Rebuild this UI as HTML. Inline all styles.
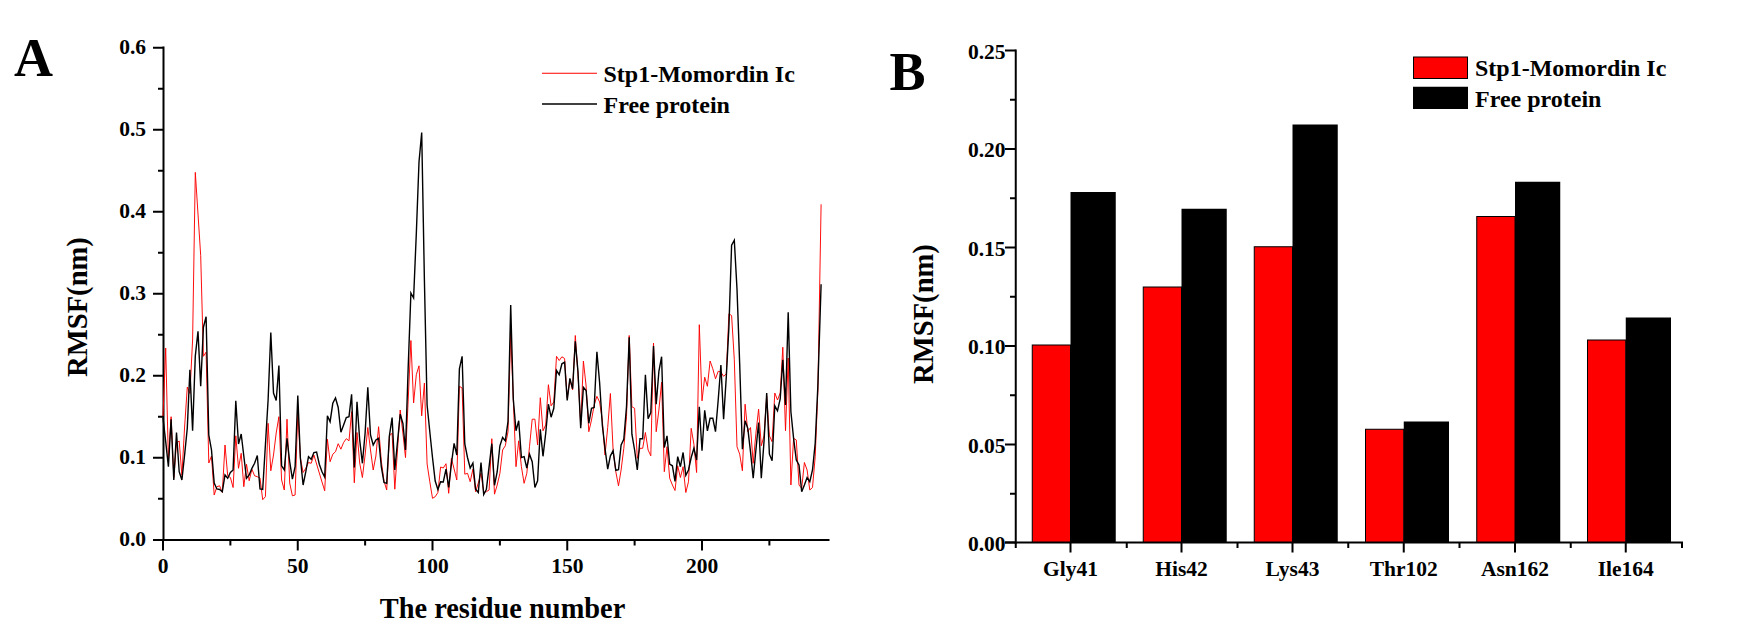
<!DOCTYPE html>
<html><head><meta charset="utf-8"><title>RMSF</title>
<style>
html,body{margin:0;padding:0;background:#fff;}
body{width:1760px;height:644px;overflow:hidden;}
svg{display:block;}
text{font-family:"Liberation Serif",serif;font-weight:bold;fill:#000;}
</style></head><body>
<svg width="1760" height="644" viewBox="0 0 1760 644">
<rect x="0" y="0" width="1760" height="644" fill="#fff"/>

<g id="panelA">
<text x="14" y="76" font-size="54">A</text>
<path d="M163.5 46.5V541" stroke="#000" stroke-width="2" fill="none"/>
<path d="M153 540.0H829.5" stroke="#000" stroke-width="2" fill="none"/>
<path d="M158 498.75H163.5M153 457.75H163.5M158 416.75H163.5M153 375.75H163.5M158 334.75H163.5M153 293.75H163.5M158 252.75H163.5M153 211.75H163.5M158 170.75H163.5M153 129.75H163.5M158 88.75H163.5M153 47.75H163.5M163.00 540.0V550.5M230.38 540.0V545.5M297.75 540.0V550.5M365.12 540.0V545.5M432.50 540.0V550.5M499.88 540.0V545.5M567.25 540.0V550.5M634.62 540.0V545.5M702.00 540.0V550.5M769.38 540.0V545.5" stroke="#000" stroke-width="2" fill="none"/>
<text x="146" y="546.35" font-size="21.5" text-anchor="end">0.0</text>
<text x="146" y="464.35" font-size="21.5" text-anchor="end">0.1</text>
<text x="146" y="382.35" font-size="21.5" text-anchor="end">0.2</text>
<text x="146" y="300.35" font-size="21.5" text-anchor="end">0.3</text>
<text x="146" y="218.35" font-size="21.5" text-anchor="end">0.4</text>
<text x="146" y="136.35" font-size="21.5" text-anchor="end">0.5</text>
<text x="146" y="54.35" font-size="21.5" text-anchor="end">0.6</text>
<text x="163.00" y="573" font-size="21.5" text-anchor="middle">0</text>
<text x="297.75" y="573" font-size="21.5" text-anchor="middle">50</text>
<text x="432.50" y="573" font-size="21.5" text-anchor="middle">100</text>
<text x="567.25" y="573" font-size="21.5" text-anchor="middle">150</text>
<text x="702.00" y="573" font-size="21.5" text-anchor="middle">200</text>
<text x="502.5" y="618" font-size="28.4" text-anchor="middle">The residue number</text>
<text transform="translate(87.2 307) rotate(-90)" font-size="28.6" text-anchor="middle">RMSF(nm)</text>
<path d="M542 73.25H597" stroke="#f00" stroke-width="1"/>
<path d="M542 104H597" stroke="#000" stroke-width="1.5"/>
<text x="603.5" y="81.7" font-size="24">Stp1-Momordin Ic</text>
<text x="603.5" y="112.5" font-size="24">Free protein</text>
<path d="M163.0 416.0 L165.7 348.0 L168.4 460.0 L171.1 416.7 L173.8 477.5 L176.5 443.0 L179.2 441.0 L181.9 475.4 L184.6 427.0 L187.3 387.0 L189.9 393.4 L192.6 340.0 L195.3 172.4 L198.0 214.0 L200.7 255.6 L203.4 356.3 L206.1 352.2 L208.8 463.0 L211.5 456.0 L214.2 495.0 L216.9 486.7 L219.6 485.8 L222.3 492.5 L225.0 445.0 L227.7 475.8 L230.4 477.5 L233.1 487.5 L235.8 435.8 L238.5 468.3 L241.2 453.3 L243.8 486.7 L246.5 464.2 L249.2 480.8 L251.9 469.2 L254.6 475.8 L257.3 476.7 L260.0 478.0 L262.7 499.7 L265.4 496.7 L268.1 423.3 L270.8 470.8 L273.5 455.0 L276.2 433.0 L278.9 416.7 L281.6 480.0 L284.3 490.0 L287.0 419.2 L289.7 483.0 L292.4 495.8 L295.1 495.0 L297.8 411.7 L300.4 458.0 L303.1 472.5 L305.8 468.3 L308.5 462.5 L311.2 463.3 L313.9 455.0 L316.6 464.0 L319.3 473.0 L322.0 482.0 L324.7 490.8 L327.4 439.2 L330.1 461.7 L332.8 454.2 L335.5 451.7 L338.2 443.7 L340.9 449.2 L343.6 442.5 L346.3 438.7 L349.0 440.8 L351.6 411.7 L354.3 482.8 L357.0 432.5 L359.7 463.0 L362.4 477.5 L365.1 455.0 L367.8 427.5 L370.5 450.0 L373.2 470.0 L375.9 456.0 L378.6 426.7 L381.3 461.0 L384.0 481.0 L386.7 490.0 L389.4 435.8 L392.1 433.3 L394.8 489.2 L397.5 450.0 L400.2 410.0 L402.9 433.0 L405.5 457.5 L408.2 400.0 L410.9 340.5 L413.6 403.0 L416.3 374.7 L419.0 365.8 L421.7 415.8 L424.4 383.0 L427.1 464.0 L429.8 481.7 L432.5 498.3 L435.2 496.7 L437.9 492.5 L440.6 467.0 L443.3 468.0 L446.0 463.7 L448.7 493.3 L451.4 458.3 L454.1 469.0 L456.8 480.0 L459.4 386.3 L462.1 388.0 L464.8 474.2 L467.5 473.3 L470.2 481.7 L472.9 469.2 L475.6 491.7 L478.3 483.0 L481.0 473.0 L483.7 492.5 L486.4 491.7 L489.1 490.0 L491.8 438.7 L494.5 494.2 L497.2 485.0 L499.9 473.3 L502.6 450.0 L505.3 445.8 L508.0 431.7 L510.7 332.2 L513.3 400.0 L516.0 466.7 L518.7 440.8 L521.4 466.7 L524.1 483.3 L526.8 473.3 L529.5 446.7 L532.2 419.2 L534.9 419.2 L537.6 445.0 L540.3 397.7 L543.0 430.8 L545.7 425.0 L548.4 384.7 L551.1 405.8 L553.8 402.0 L556.5 356.3 L559.2 360.5 L561.9 356.8 L564.6 358.5 L567.2 398.0 L569.9 380.0 L572.6 390.0 L575.3 335.5 L578.0 375.0 L580.7 425.0 L583.4 361.0 L586.1 386.0 L588.8 431.7 L591.5 420.0 L594.2 405.0 L596.9 396.3 L599.6 402.0 L602.3 420.0 L605.0 455.0 L607.7 427.5 L610.4 393.5 L613.1 450.0 L615.8 471.7 L618.5 485.8 L621.1 470.0 L623.8 448.3 L626.5 416.7 L629.2 335.5 L631.9 406.7 L634.6 408.3 L637.3 458.3 L640.0 448.3 L642.7 448.3 L645.4 432.5 L648.1 450.0 L650.8 455.8 L653.5 343.0 L656.2 431.7 L658.9 410.0 L661.6 382.2 L664.3 471.7 L667.0 446.7 L669.7 478.3 L672.4 485.0 L675.0 490.5 L677.7 465.8 L680.4 477.5 L683.1 466.7 L685.8 492.5 L688.5 481.7 L691.2 428.3 L693.9 444.2 L696.6 472.5 L699.3 324.7 L702.0 400.8 L704.7 377.2 L707.4 386.3 L710.1 361.0 L712.8 368.8 L715.5 378.8 L718.2 371.3 L720.9 372.0 L723.6 376.3 L726.3 373.8 L728.9 313.8 L731.6 315.5 L734.3 359.7 L737.0 446.7 L739.7 454.2 L742.4 470.8 L745.1 404.2 L747.8 431.7 L750.5 427.5 L753.2 463.3 L755.9 433.3 L758.6 409.2 L761.3 445.8 L764.0 435.8 L766.7 396.0 L769.4 435.8 L772.1 441.7 L774.8 393.0 L777.5 400.0 L780.2 393.0 L782.8 347.2 L785.5 430.8 L788.2 358.0 L790.9 485.0 L793.6 438.3 L796.3 440.0 L799.0 485.0 L801.7 488.3 L804.4 462.5 L807.1 470.0 L809.8 490.0 L812.5 487.5 L815.2 456.7 L817.9 390.0 L821.1 204.3" stroke="#f00" stroke-width="0.95" fill="none" stroke-linejoin="miter" stroke-miterlimit="4"/>
<path d="M163.0 418.0 L165.7 441.7 L168.4 466.7 L171.1 419.2 L173.8 480.0 L176.5 432.5 L179.2 471.7 L181.9 480.0 L184.6 455.0 L187.3 428.0 L189.9 369.7 L192.6 430.8 L195.3 356.0 L198.0 331.3 L200.7 386.3 L203.4 327.2 L206.1 316.8 L208.8 435.0 L211.5 450.0 L214.2 483.0 L216.9 489.0 L219.6 489.5 L222.3 491.7 L225.0 475.0 L227.7 478.3 L230.4 472.5 L233.1 470.0 L235.8 400.8 L238.5 444.0 L241.2 434.0 L243.8 456.0 L246.5 478.3 L249.2 475.0 L251.9 468.3 L254.6 463.3 L257.3 455.5 L260.0 489.0 L262.7 489.5 L265.4 445.0 L268.1 400.0 L270.8 332.5 L273.5 393.0 L276.2 400.5 L278.9 365.5 L281.6 465.8 L284.3 470.0 L287.0 438.3 L289.7 461.7 L292.4 479.2 L295.1 466.7 L297.8 395.5 L300.4 458.3 L303.1 485.0 L305.8 471.7 L308.5 456.7 L311.2 459.2 L313.9 452.5 L316.6 452.0 L319.3 464.2 L322.0 471.7 L324.7 477.0 L327.4 415.8 L330.1 421.7 L332.8 403.3 L335.5 398.0 L338.2 407.5 L340.9 432.2 L343.6 425.0 L346.3 417.5 L349.0 416.7 L351.6 394.3 L354.3 467.5 L357.0 401.7 L359.7 440.0 L362.4 463.3 L365.1 433.3 L367.8 387.2 L370.5 435.0 L373.2 445.0 L375.9 440.0 L378.6 438.3 L381.3 466.7 L384.0 482.5 L386.7 483.3 L389.4 435.8 L392.1 417.5 L394.8 470.0 L397.5 441.7 L400.2 414.2 L402.9 423.3 L405.5 450.0 L408.2 367.0 L410.9 293.0 L413.6 298.0 L416.3 234.0 L419.0 162.0 L421.7 132.6 L424.4 280.0 L427.1 405.0 L429.8 431.7 L432.5 457.5 L435.2 481.0 L437.9 489.5 L440.6 481.7 L443.3 482.0 L446.0 469.2 L448.7 487.5 L451.4 464.0 L454.1 443.3 L456.8 455.0 L459.4 368.8 L462.1 356.3 L464.8 444.0 L467.5 457.5 L470.2 468.0 L472.9 463.0 L475.6 489.2 L478.3 492.5 L481.0 462.5 L483.7 494.5 L486.4 489.2 L489.1 466.7 L491.8 443.7 L494.5 485.3 L497.2 471.7 L499.9 445.8 L502.6 437.5 L505.3 440.8 L508.0 421.7 L510.7 305.0 L513.3 399.0 L516.0 430.8 L518.7 420.8 L521.4 457.5 L524.1 456.7 L526.8 468.0 L529.5 454.2 L532.2 461.7 L534.9 487.5 L537.6 480.8 L540.3 429.2 L543.0 456.3 L545.7 433.3 L548.4 404.2 L551.1 417.2 L553.8 408.3 L556.5 370.5 L559.2 374.7 L561.9 363.8 L564.6 362.2 L567.2 400.5 L569.9 378.3 L572.6 388.8 L575.3 341.3 L578.0 371.7 L580.7 428.3 L583.4 387.2 L586.1 390.5 L588.8 423.3 L591.5 408.3 L594.2 407.5 L596.9 351.7 L599.6 382.5 L602.3 425.0 L605.0 448.3 L607.7 469.2 L610.4 455.8 L613.1 450.8 L615.8 470.3 L618.5 469.7 L621.1 445.0 L623.8 439.2 L626.5 406.7 L629.2 337.2 L631.9 434.2 L634.6 450.0 L637.3 470.0 L640.0 438.7 L642.7 438.7 L645.4 374.7 L648.1 418.7 L650.8 412.5 L653.5 346.0 L656.2 404.2 L658.9 371.3 L661.6 356.7 L664.3 447.5 L667.0 435.8 L669.7 464.2 L672.4 465.8 L675.0 481.3 L677.7 456.7 L680.4 466.7 L683.1 452.5 L685.8 475.3 L688.5 470.0 L691.2 457.5 L693.9 448.3 L696.6 460.0 L699.3 406.7 L702.0 450.8 L704.7 410.3 L707.4 430.8 L710.1 418.3 L712.8 418.3 L715.5 431.7 L718.2 400.0 L720.9 365.0 L723.6 419.2 L726.3 376.8 L728.9 327.4 L731.6 245.2 L734.3 240.2 L737.0 289.0 L739.7 364.5 L742.4 449.2 L745.1 420.8 L747.8 428.3 L750.5 451.7 L753.2 478.3 L755.9 450.0 L758.6 422.5 L761.3 478.3 L764.0 441.7 L766.7 393.0 L769.4 454.2 L772.1 460.8 L774.8 405.8 L777.5 410.8 L780.2 399.0 L782.8 359.7 L785.5 405.0 L788.2 312.2 L790.9 411.7 L793.6 438.3 L796.3 460.0 L799.0 465.0 L801.7 491.7 L804.4 485.0 L807.1 477.5 L809.8 481.7 L812.5 470.0 L815.2 443.3 L817.9 385.0 L821.1 284.3" stroke="#000" stroke-width="1.4" fill="none" stroke-linejoin="miter" stroke-miterlimit="4"/>
</g>
<g id="panelB">
<text x="889.5" y="89.5" font-size="54">B</text>
<rect x="1032.25" y="345.00" width="38.25" height="197.50" fill="#f00" stroke="#000" stroke-width="1"/>
<rect x="1070.50" y="192.00" width="45.25" height="350.50" fill="#000"/>
<rect x="1143.25" y="287.00" width="38.25" height="255.50" fill="#f00" stroke="#000" stroke-width="1"/>
<rect x="1181.50" y="208.75" width="45.25" height="333.75" fill="#000"/>
<rect x="1254.25" y="246.75" width="38.25" height="295.75" fill="#f00" stroke="#000" stroke-width="1"/>
<rect x="1292.50" y="124.50" width="45.25" height="418.00" fill="#000"/>
<rect x="1365.50" y="429.25" width="38.25" height="113.25" fill="#f00" stroke="#000" stroke-width="1"/>
<rect x="1403.75" y="421.50" width="45.25" height="121.00" fill="#000"/>
<rect x="1476.75" y="216.50" width="38.25" height="326.00" fill="#f00" stroke="#000" stroke-width="1"/>
<rect x="1515.00" y="181.75" width="45.25" height="360.75" fill="#000"/>
<rect x="1587.50" y="340.00" width="38.25" height="202.50" fill="#f00" stroke="#000" stroke-width="1"/>
<rect x="1625.75" y="317.50" width="45.25" height="225.00" fill="#000"/>
<path d="M1015.75 49.5V543.5" stroke="#000" stroke-width="2" fill="none"/>
<path d="M1005 542.5H1683" stroke="#000" stroke-width="2" fill="none"/>
<path d="M1005 542.50H1015.75M1010 493.75H1015.75M1005 444.50H1015.75M1010 395.25H1015.75M1005 346.00H1015.75M1010 296.75H1015.75M1005 247.50H1015.75M1010 198.25H1015.75M1005 149.00H1015.75M1010 99.75H1015.75M1005 50.50H1015.75M1070.50 542.5V552.5M1181.50 542.5V552.5M1292.50 542.5V552.5M1403.75 542.5V552.5M1515.00 542.5V552.5M1625.75 542.5V552.5M1015.75 542.5V548M1126.75 542.5V548M1237.50 542.5V548M1348.25 542.5V548M1459.50 542.5V548M1570.75 542.5V548M1682.00 542.5V548" stroke="#000" stroke-width="2" fill="none"/>
<text x="1005.6" y="551.20" font-size="21.5" text-anchor="end">0.00</text>
<text x="1005.6" y="452.70" font-size="21.5" text-anchor="end">0.05</text>
<text x="1005.6" y="354.20" font-size="21.5" text-anchor="end">0.10</text>
<text x="1005.6" y="255.70" font-size="21.5" text-anchor="end">0.15</text>
<text x="1005.6" y="157.20" font-size="21.5" text-anchor="end">0.20</text>
<text x="1005.6" y="58.70" font-size="21.5" text-anchor="end">0.25</text>
<text x="1070.50" y="576.3" font-size="21.5" text-anchor="middle">Gly41</text>
<text x="1181.50" y="576.3" font-size="21.5" text-anchor="middle">His42</text>
<text x="1292.50" y="576.3" font-size="21.5" text-anchor="middle">Lys43</text>
<text x="1403.75" y="576.3" font-size="21.5" text-anchor="middle">Thr102</text>
<text x="1515.00" y="576.3" font-size="21.5" text-anchor="middle">Asn162</text>
<text x="1625.75" y="576.3" font-size="21.5" text-anchor="middle">Ile164</text>
<text transform="translate(933.4 314) rotate(-90)" font-size="28.6" text-anchor="middle">RMSF(nm)</text>
<rect x="1413.5" y="57" width="54" height="21.5" fill="#f00" stroke="#000" stroke-width="1"/>
<rect x="1413" y="86.75" width="55" height="22.25" fill="#000"/>
<text x="1475" y="75.5" font-size="24">Stp1-Momordin Ic</text>
<text x="1475" y="106.75" font-size="24">Free protein</text>
</g>
</svg>
</body></html>
